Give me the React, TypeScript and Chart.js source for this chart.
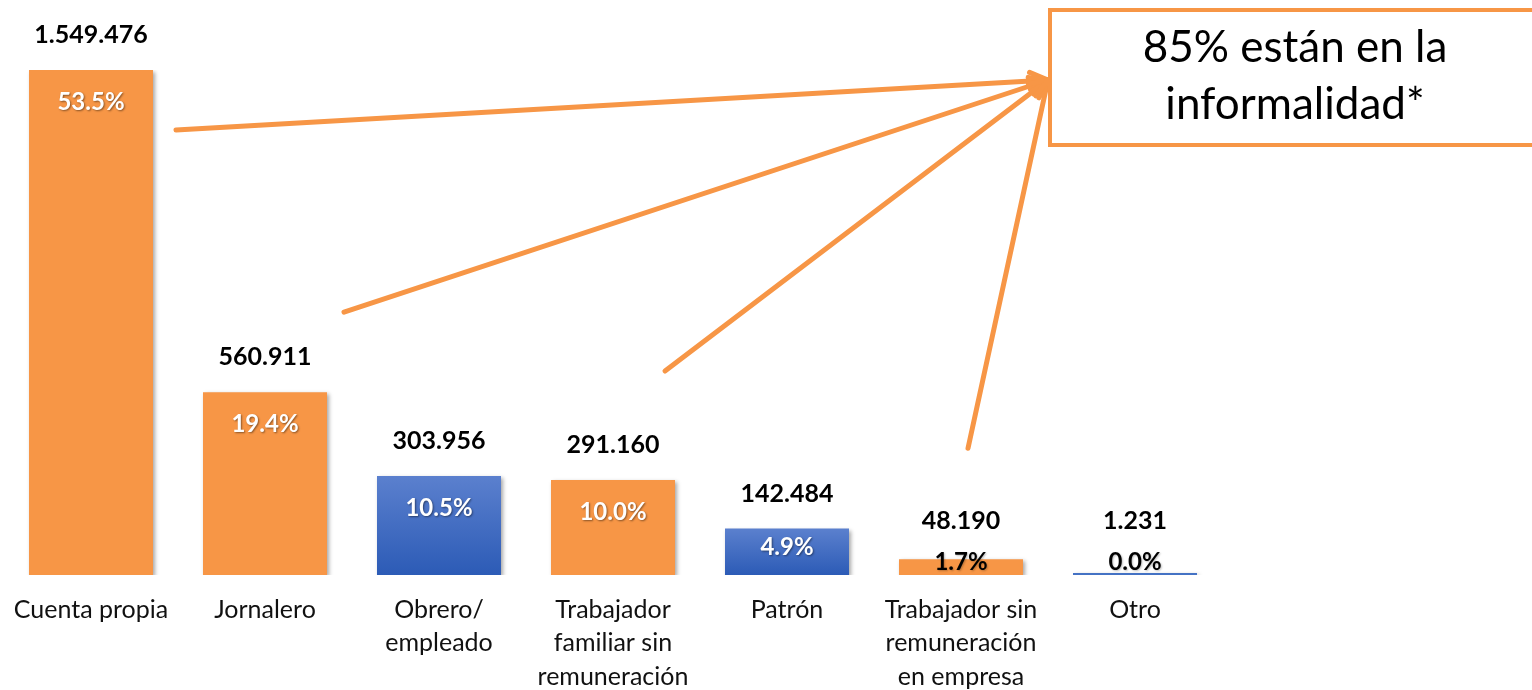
import React, { useEffect, useRef } from "react";
import { Chart, registerables } from "chart.js";

Chart.register(...registerables);

const categories: string[][] = [
  ["Cuenta propia"],
  ["Jornalero"],
  ["Obrero/", "empleado"],
  ["Trabajador", "familiar sin", "remuneración"],
  ["Patrón"],
  ["Trabajador sin", "remuneración", "en empresa"],
  ["Otro"],
];
const workers: number[] = [1549476, 560911, 303956, 291160, 142484, 48190, 1231];
const shares: number[] = [53.5, 19.4, 10.5, 10.0, 4.9, 1.7, 0.0];
const informal: boolean[] = [true, true, false, true, false, true, false];
const calloutLines: string[] = ["85% están en la", "informalidad*"];
// arrow start offsets relative to bar (center x, top y) for informal categories
const arrowFrom: { index: number; dx: number; dy: number }[] = [
  { index: 0, dx: 85, dy: 60 },
  { index: 1, dx: 79, dy: -80 },
  { index: 3, dx: 52, dy: -109 },
  { index: 5, dx: 7, dy: -111 },
];

const ORANGE = "#F79646";
const FONT = "Lato, 'Open Sans', sans-serif";

const fmt = (n: number) => String(n).replace(/\B(?=(\d{3})+(?!\d))/g, ".");

const labelsPlugin = {
  id: "labelsPlugin",
  beforeDatasetsDraw(chart: any) {
    const ctx = chart.ctx;
    ctx.save();
    ctx.shadowColor = "rgba(0,0,0,0.35)";
    ctx.shadowBlur = 4;
    ctx.shadowOffsetX = 2;
    ctx.shadowOffsetY = 2;
  },
  afterDatasetsDraw(chart: any) {
    const ctx = chart.ctx;
    ctx.restore();
    const meta = chart.getDatasetMeta(0);
    ctx.save();
    ctx.textAlign = "center";
    ctx.textBaseline = "middle";
    meta.data.forEach((el: any, i: number) => {
      const top = el.y;
      const base = el.base;
      const h = base - top;
      const small = h < 40;
      const pctY = h >= 80 ? top + 32 : h >= 40 ? top + 19 : base - 13;
      const valY = Math.min(top - 35, pctY - 41);
      ctx.font = `bold 25px ${FONT}`;
      ctx.fillStyle = "#000";
      ctx.shadowColor = "transparent";
      ctx.fillText(fmt(workers[i]), el.x, valY);
      ctx.save();
      if (small) {
        ctx.fillStyle = "#000";
        ctx.shadowColor = "rgba(0,0,0,0.25)";
        ctx.shadowBlur = 2;
        ctx.shadowOffsetX = 1;
        ctx.shadowOffsetY = 1;
      } else {
        ctx.fillStyle = "#fff";
        ctx.shadowColor = "rgba(0,0,0,0.45)";
        ctx.shadowBlur = 2;
        ctx.shadowOffsetX = 1;
        ctx.shadowOffsetY = 1;
      }
      ctx.font = `bold 24px ${FONT}`;
      ctx.fillText(shares[i].toFixed(1) + "%", el.x, pctY);
      ctx.restore();
    });
    ctx.restore();
  },
  afterDraw(chart: any) {
    const ctx = chart.ctx;
    const meta = chart.getDatasetMeta(0);
    const boxL = 1050, boxT = 10, boxR = 1545, boxB = 145;
    ctx.save();
    // arrows
    ctx.strokeStyle = ORANGE;
    ctx.lineWidth = 5;
    ctx.lineCap = "round";
    ctx.lineJoin = "round";
    const tipX = boxL - 2, tipY = 80;
    arrowFrom.forEach((a) => {
      const el = meta.data[a.index];
      const sx = el.x + a.dx;
      const sy = el.y + a.dy;
      ctx.beginPath();
      ctx.moveTo(sx, sy);
      ctx.lineTo(tipX, tipY);
      ctx.stroke();
      const ang = Math.atan2(tipY - sy, tipX - sx);
      const L = 20, w = 0.45;
      ctx.beginPath();
      ctx.moveTo(tipX - L * Math.cos(ang - w), tipY - L * Math.sin(ang - w));
      ctx.lineTo(tipX, tipY);
      ctx.lineTo(tipX - L * Math.cos(ang + w), tipY - L * Math.sin(ang + w));
      ctx.stroke();
    });
    // callout box
    ctx.fillStyle = "#fff";
    ctx.fillRect(boxL, boxT, boxR - boxL, boxB - boxT);
    ctx.lineWidth = 4;
    ctx.lineCap = "butt";
    ctx.lineJoin = "miter";
    ctx.strokeRect(boxL, boxT, boxR - boxL, boxB - boxT);
    ctx.fillStyle = "#000";
    ctx.font = `44px ${FONT}`;
    ctx.textAlign = "center";
    ctx.textBaseline = "middle";
    ctx.fillText(calloutLines[0], 1295, 48);
    ctx.fillText(calloutLines[1], 1295, 105);
    ctx.restore();
  },
};

export default function App() {
  const ref = useRef<HTMLCanvasElement | null>(null);
  useEffect(() => {
    if (!ref.current) return;
    const chart = new Chart(ref.current, {
      type: "bar",
      data: {
        labels: categories,
        datasets: [
          {
            data: workers,
            backgroundColor: (c: any) => {
              const i = c.dataIndex;
              if (informal[i]) return ORANGE;
              const chart = c.chart;
              const ys = chart.scales && chart.scales.y;
              if (!ys || !chart.chartArea) return "#4472C4";
              const top = ys.getPixelForValue(workers[i]);
              const base = ys.getPixelForValue(0);
              if (!isFinite(top) || !isFinite(base) || base - top < 3) return "#4472C4";
              const g = chart.ctx.createLinearGradient(0, top, 0, base);
              g.addColorStop(0, "#5B80CE");
              g.addColorStop(1, "#2C5BB6");
              return g;
            },
            borderWidth: 0,
            barPercentage: 0.7126,
            categoryPercentage: 1,
            minBarLength: 2,
          },
        ],
      },
      options: {
        responsive: false,
        animation: false,
        layout: { padding: { top: 70, left: 4, right: 310, bottom: 0 } },
        plugins: { legend: { display: false }, tooltip: { enabled: false } },
        scales: {
          y: { display: false, min: 0, max: 1549476 },
          x: {
            grid: { display: false, drawTicks: false },
            border: { display: false },
            ticks: {
              color: "#111",
              font: { family: FONT, size: 25, lineHeight: 1.34 },
              padding: 18,
              maxRotation: 0,
              autoSkip: false,
            },
            afterFit: (s: any) => {
              s.height = 115;
              s.paddingLeft = 0;
              s.paddingRight = 0;
            },
          },
        },
      },
      plugins: [labelsPlugin],
    });
    return () => chart.destroy();
  }, []);
  return (
    <div style={{ position: "fixed", left: 0, top: 0, width: 1532, height: 690, background: "#fff" }}>
      <canvas ref={ref} width={1532} height={690} />
    </div>
  );
}
